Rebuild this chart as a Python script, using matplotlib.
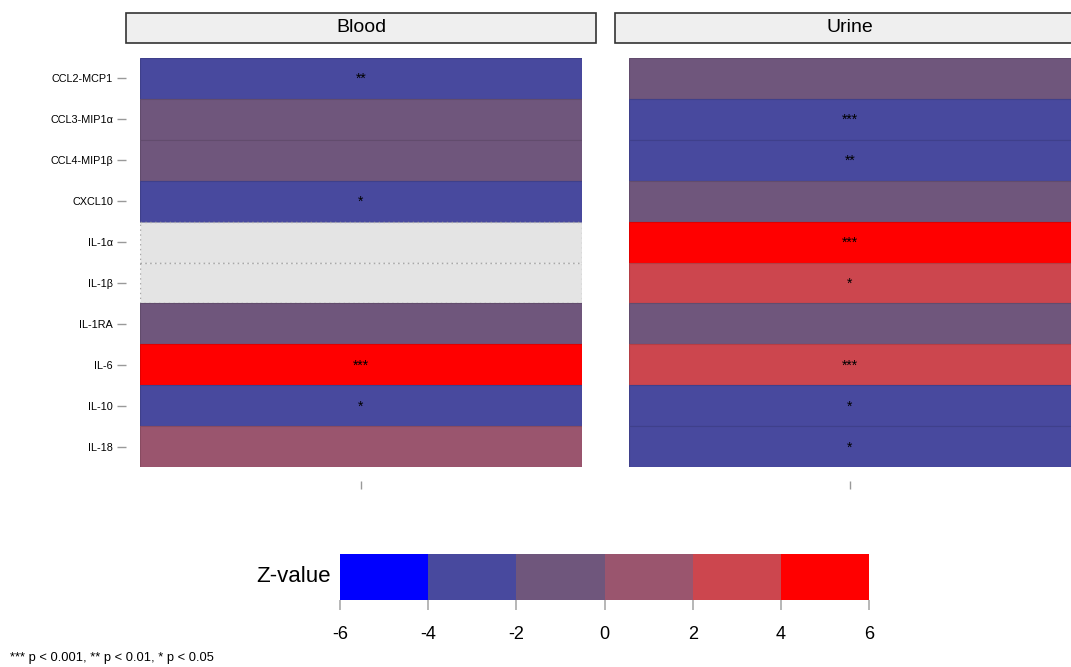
import numpy as np
import matplotlib
matplotlib.use('Agg')
import matplotlib.pyplot as plt
from matplotlib.colors import ListedColormap, BoundaryNorm, to_rgb
from matplotlib.patches import Rectangle
import matplotlib.colorbar as mcolorbar

plt.rcParams['font.family'] = ['Liberation Sans', 'DejaVu Sans']

cytokines = ['CCL2-MCP1', 'CCL3-MIP1α', 'CCL4-MIP1β', 'CXCL10', 'IL-1α',
             'IL-1β', 'IL-1RA', 'IL-6', 'IL-10', 'IL-18']
panels = ['Blood', 'Urine']

# estimated z-values (only the bin is readable from the picture)
z_blood = [-3.0, -1.0, -1.0, -3.0, np.nan, np.nan, -1.0, 5.0, -3.0, 1.0]
z_urine = [-1.0, -3.0, -3.0, -1.0, 5.0, 3.0, -1.0, 3.0, -3.0, -3.0]
sig_blood = ['**', '', '', '*', '', '', '', '***', '*', '']
sig_urine = ['', '***', '**', '', '***', '*', '', '***', '*', '*']

bounds = [-6, -4, -2, 0, 2, 4, 6]
bin_colors = ['#0000FF', '#48499E', '#6F567C', '#9A556E', '#CC464E', '#FF0000']
na_color = '#E4E4E4'

cmap = ListedColormap(bin_colors)
norm = BoundaryNorm(bounds, cmap.N)

W, H = 1071, 667
fig = plt.figure(figsize=(W / 100, H / 100), dpi=100)


def fx(px):
    return px / W


def fy(py):
    return 1 - py / H


def darker(c, f=0.88):
    r, g, b = to_rgb(c)
    return (r * f, g * f, b * f)


panel_left = [140, 629]
strip_left = [126, 615]
panel_w = 442
top, bottom = 58, 467

for i, (name, zs, sigs) in enumerate(zip(panels, [z_blood, z_urine], [sig_blood, sig_urine])):
    ax = fig.add_axes([fx(panel_left[i]), fy(bottom), fx(panel_w), (bottom - top) / H])
    y = np.arange(len(cytokines))
    for yi, z, s in zip(y, zs, sigs):
        if np.isnan(z):
            ax.barh(yi, 1, left=0, height=1, color=na_color, edgecolor='#A8A8A8',
                    linestyle=(0, (1, 2.5)), linewidth=1.0)
        else:
            c = cmap(norm(z))
            ax.barh(yi, 1, left=0, height=1, color=c, edgecolor=darker(c), linewidth=0.8)
        if s:
            ax.text(0.5, yi + 0.02, s, ha='center', va='center', fontsize=10, color='black')
    ax.set_xlim(0, 1)
    ax.set_ylim(len(cytokines) - 0.5, -0.5)
    ax.set_xticks([0.5])
    ax.set_xticklabels([''])
    ax.set_yticks(y)
    for sp in ax.spines.values():
        sp.set_visible(False)
    ax.spines['left'].set_position(('outward', 10))
    ax.spines['bottom'].set_position(('outward', 10))
    ax.tick_params(axis='both', color='#999999', width=1, length=6.5, pad=3)
    ax.tick_params(axis='x', length=6)
    if i == 0:
        ax.set_yticklabels(cytokines, fontsize=7.8)
    else:
        ax.set_yticklabels([])
        ax.tick_params(axis='y', length=0)

    # facet strip
    fig.patches.append(Rectangle((fx(strip_left[i]), fy(43)), fx(470), 30 / H,
                                 transform=fig.transFigure, facecolor='#EFEFEF',
                                 edgecolor='#333333', linewidth=1.2))
    fig.text(fx(strip_left[i] + 235), fy(27.5), name, ha='center', va='center', fontsize=14)

# colorbar legend
cax = fig.add_axes([fx(340), fy(600), fx(529), 46 / H])
cb = mcolorbar.ColorbarBase(cax, cmap=cmap, norm=norm, boundaries=bounds,
                            ticks=bounds, orientation='horizontal', spacing='proportional')
cb.outline.set_visible(False)
cax.tick_params(axis='x', color='#AAAAAA', width=1.2, length=7, labelsize=13, pad=12)
cax.set_xticklabels([str(b) for b in bounds])
fig.text(fx(331), fy(577), 'Z-value', ha='right', va='center', fontsize=16)

fig.text(fx(10), fy(658), '*** p < 0.001, ** p < 0.01, * p < 0.05', ha='left', va='center',
         fontsize=9.3)

fig.savefig('out.png', dpi=100)
